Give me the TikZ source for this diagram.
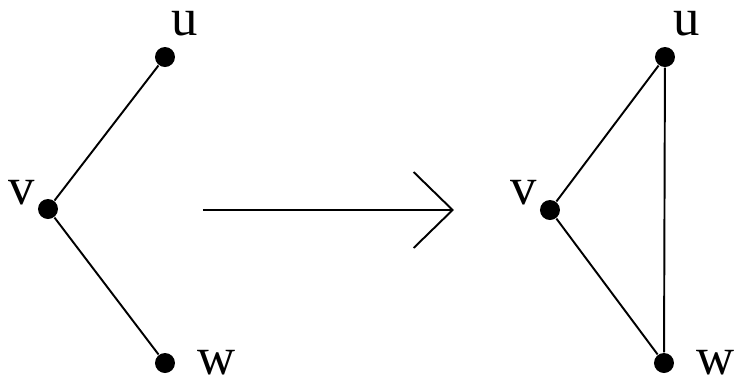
\documentclass[tikz,border=0pt]{standalone}
\usepackage{fontspec}
\setmainfont{Liberation Serif}
\usetikzlibrary{arrows.meta}

\begin{document}
\begin{tikzpicture}[
        dot/.style={circle,fill=black,inner sep=0pt,minimum size=0.2cm},
        lbl/.style={inner sep=0pt,font=\fontsize{15}{15}\selectfont},
        edge/.style={draw=black,line width=0.55pt}
      ]
        \useasboundingbox (0,0) rectangle (7.35,3.80);
        % before
        \node[dot] (u1) at (1.65,3.23) {};
        \node[dot] (v1) at (0.48,1.71) {};
        \node[dot] (w1) at (1.65,0.17) {};
        \node[lbl] (lu1) at (1.85,3.56) {u};
        \node[lbl] (lv1) at (0.22,1.87) {v};
        \node[lbl] (lw1) at (2.17,0.17) {w};
        \draw[edge] (v1)--(u1);
        \draw[edge] (v1)--(w1);
        % arrow
        \coordinate (a1) at (2.03,1.70);
        \coordinate (a2) at (4.54,1.70);
        \draw[edge,-{Straight Barb[length=3.9mm,width=7.6mm]}] (a1)--(a2);
        % after
        \node[dot] (u2) at (6.65,3.23) {};
        \node[dot] (v2) at (5.50,1.70) {};
        \node[dot] (w2) at (6.64,0.17) {};
        \node[lbl] (lu2) at (6.87,3.56) {u};
        \node[lbl] (lv2) at (5.24,1.87) {v};
        \node[lbl] (lw2) at (7.16,0.17) {w};
        \draw[edge] (v2)--(u2);
        \draw[edge] (v2)--(w2);
        \draw[edge] (u2)--(w2);
      \end{tikzpicture}
\end{document}
